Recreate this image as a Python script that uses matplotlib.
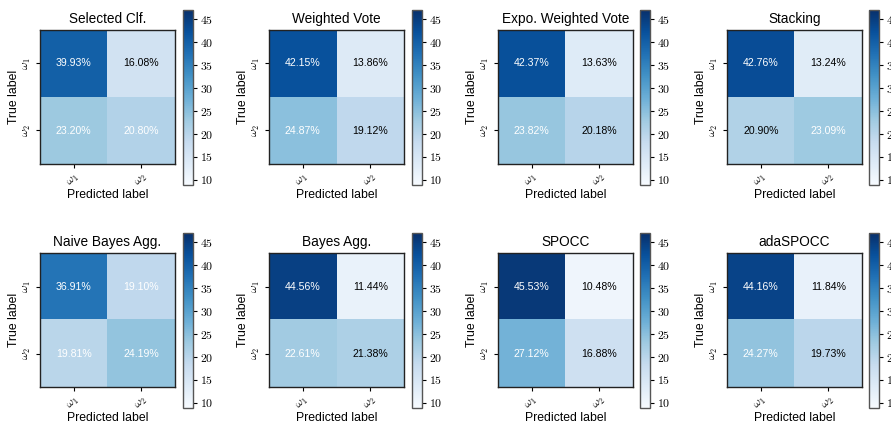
import matplotlib
matplotlib.use("Agg")
import matplotlib.pyplot as plt
import numpy as np
from matplotlib.colors import Normalize
from matplotlib.cm import ScalarMappable

plt.rcParams['font.family'] = ['Liberation Sans', 'DejaVu Sans']
plt.rcParams['mathtext.fontset'] = 'cm'

titles = ["Selected Clf.", "Weighted Vote", "Expo. Weighted Vote", "Stacking",
          "Naive Bayes Agg.", "Bayes Agg.", "SPOCC", "adaSPOCC"]
# [[w1->w1, w1->w2], [w2->w1, w2->w2]] in percent
selected = [[39.93, 16.08], [23.20, 20.80]]
weighted_vote = [[42.15, 13.86], [24.87, 19.12]]
expo_weighted = [[42.37, 13.63], [23.82, 20.18]]
stacking = [[42.76, 13.24], [20.90, 23.09]]
naive_bayes = [[36.91, 19.10], [19.81, 24.19]]
bayes_agg = [[44.56, 11.44], [22.61, 21.38]]
spocc = [[45.53, 10.48], [27.12, 16.88]]
adaspocc = [[44.16, 11.84], [24.27, 19.73]]
matrices = [selected, weighted_vote, expo_weighted, stacking,
            naive_bayes, bayes_agg, spocc, adaspocc]
class_labels = [r"$\omega_1$", r"$\omega_2$"]
cbar_ticks = [10, 15, 20, 25, 30, 35, 40, 45]
vmin, vmax = 8.9, 47.0

W, H = 891, 423
fig = plt.figure(figsize=(W / 100, H / 100), dpi=100)

def rect(x, y, w, h):
    return [x / W, 1 - (y + h) / H, w / W, h / H]

img_lefts = [40, 269, 498, 727]
cb_lefts = [183, 412, 640, 869]
img_tops = [30, 253]
cb_tops = [10, 233]

norm = Normalize(vmin=vmin, vmax=vmax)
cmap = plt.get_cmap('Blues')

for i, (title, m) in enumerate(zip(titles, matrices)):
    r, c = divmod(i, 4)
    cm = np.array(m)
    ax = fig.add_axes(rect(img_lefts[c], img_tops[r], 135, 134))
    ax.imshow(cm, cmap=cmap, norm=norm, aspect='auto', interpolation='nearest')
    ax.set_title(title, fontsize=9.8, pad=5)
    ax.set_xticks(range(2))
    ax.set_yticks(range(2))
    ax.set_xticklabels(class_labels, rotation=45, fontsize=8.5)
    ax.set_yticklabels(class_labels, rotation=90, va='center', fontsize=8.5)
    ax.set_xlabel("Predicted label", fontsize=8.8, labelpad=0)
    ax.set_ylabel("True label", fontsize=8.8, labelpad=1)
    ax.tick_params(length=3, width=0.8, pad=2)
    for s in ax.spines.values():
        s.set_linewidth(1.0)
        s.set_color('#222222')
    thresh = cm.max() / 2.0
    for a in range(2):
        for b in range(2):
            ax.text(b, a, f"{cm[a, b]:.2f}%", ha='center', va='center', fontsize=7.6,
                    color='white' if cm[a, b] > thresh else 'black')
    cax = fig.add_axes(rect(cb_lefts[c], cb_tops[r], 10, 175))
    cb = fig.colorbar(ScalarMappable(norm=norm, cmap=cmap), cax=cax)
    cb.set_ticks(cbar_ticks)
    cb.set_ticklabels([f"${t}$" for t in cbar_ticks])
    cb.ax.tick_params(labelsize=8.5, length=3, width=0.8, pad=2)
    cb.outline.set_edgecolor('#555555')
    cb.outline.set_linewidth(1.0)

fig.savefig("out.png", dpi=100)
